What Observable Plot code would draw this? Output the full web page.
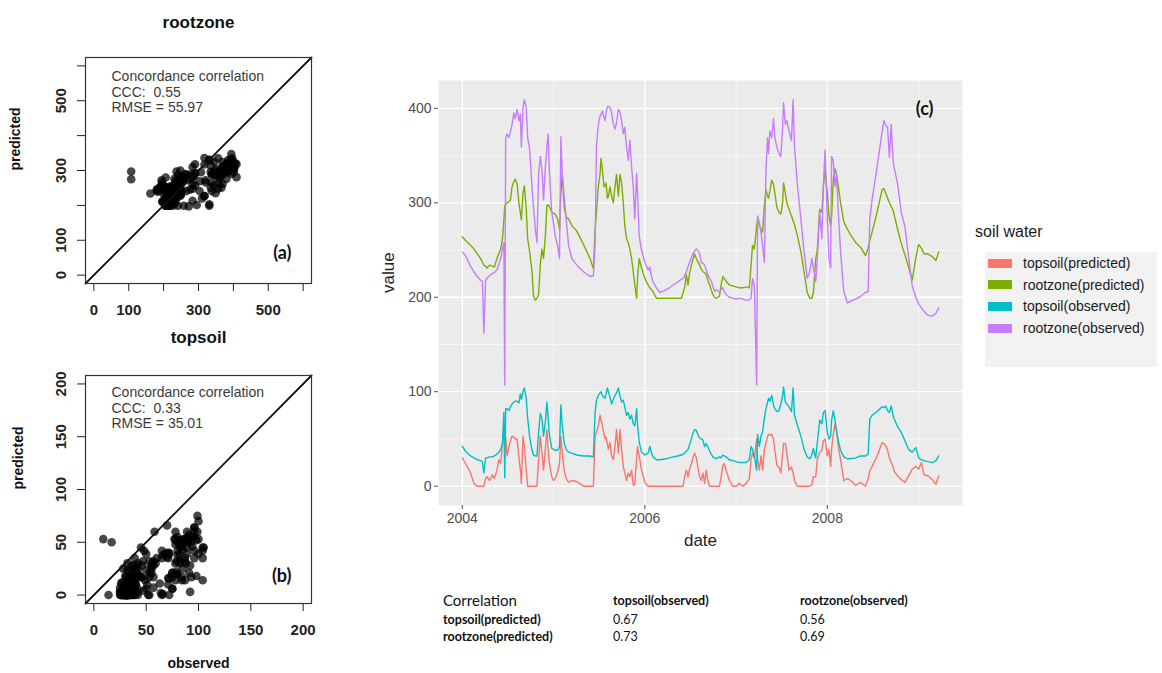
<!DOCTYPE html>
<html><head><meta charset="utf-8">
<script src="https://cdn.jsdelivr.net/npm/d3@7"></script>
<script src="https://cdn.jsdelivr.net/npm/@observablehq/plot@0.6"></script>
<style>
body{margin:0;background:#fff;}
#root{position:relative;width:1162px;height:673px;overflow:hidden;font-family:"Liberation Sans",Arial,sans-serif;background:#fff;}
.t{position:absolute;white-space:nowrap;}
</style></head><body><div id="root"></div>
<script>
// ---------- data (decimal years) ----------
const years = [
2004.000,2004.036,2004.090,2004.127,2004.164,2004.200,2004.220,2004.236,2004.255,2004.270,2004.300,2004.327,2004.350,2004.380,2004.400,2004.420,2004.440,2004.455,2004.465,2004.475,2004.490,2004.510,2004.527,2004.545,2004.564,2004.580,2004.600,2004.620,2004.635,2004.647,2004.665,2004.680,2004.700,2004.716,2004.738,2004.764,2004.780,2004.800,2004.818,2004.836,2004.855,2004.873,2004.890,2004.910,2004.927,2004.940,2004.953,2004.980,
2005.000,2005.018,2005.044,2005.065,2005.080,2005.095,2005.116,2005.138,2005.164,2005.200,2005.255,2005.327,2005.400,2005.436,2005.455,2005.470,2005.490,2005.510,2005.520,2005.535,2005.553,2005.564,2005.575,2005.590,2005.600,2005.618,2005.636,2005.655,2005.673,2005.690,2005.710,2005.727,2005.745,2005.764,2005.780,2005.800,2005.818,2005.836,2005.855,2005.873,2005.890,2005.910,2005.920,2005.938,2005.964,
2006.000,2006.036,2006.055,2006.073,2006.090,2006.127,2006.164,2006.236,2006.270,2006.310,2006.360,2006.400,2006.420,2006.436,2006.455,2006.473,2006.490,2006.510,2006.527,2006.545,2006.564,2006.580,2006.600,2006.618,2006.636,2006.655,2006.673,2006.690,2006.710,2006.727,2006.745,2006.764,2006.780,2006.800,2006.818,2006.836,2006.855,2006.870,2006.890,2006.927,2006.964,
2007.000,2007.036,2007.073,2007.110,2007.145,2007.164,2007.180,2007.200,2007.225,2007.236,2007.255,2007.273,2007.290,2007.310,2007.327,2007.345,2007.356,2007.370,2007.390,2007.410,2007.425,2007.447,2007.470,2007.490,2007.510,2007.520,2007.540,2007.556,2007.580,2007.607,2007.625,2007.640,2007.670,2007.710,2007.745,2007.780,2007.807,2007.830,2007.847,2007.873,2007.890,2007.916,2007.940,2007.956,2007.975,
2008.000,2008.018,2008.036,2008.047,2008.065,2008.084,2008.100,2008.120,2008.145,2008.180,2008.220,2008.255,2008.310,2008.364,2008.418,2008.447,2008.465,2008.490,2008.545,2008.600,2008.620,2008.640,2008.660,2008.680,2008.700,2008.720,2008.730,2008.770,2008.810,2008.850,2008.890,2008.930,2008.970,
2009.000,2009.030,2009.060,2009.100,2009.150,2009.190,2009.220];

const topsoilPredicted = [
30,24,14,3,0,0,0,0,8,10,6,12,8,17,28,24,45,60,53,52,32,42,48,53,52,50,50,30,18,3,53,42,17,0,0,0,0,0,0,28,53,35,17,39,60,40,25,10,
6,8,15,24,53,35,17,8,4,6,5,0,0,0,53,57,64,75,70,64,55,50,52,45,39,46,32,28,42,60,35,60,39,21,14,6,14,10,17,1,2,30,42,32,17,
4,0,0,0,0,0,0,0,0,0,0,0,0,10,17,10,18,24,30,35,30,21,10,6,14,3,17,6,0,0,0,0,0,0,0,10,22,24,17,6,0,
0,3,0,3,8,28,35,30,50,28,17,32,17,39,46,53,55,54,55,50,38,22,20,14,35,45,45,35,17,20,14,6,0,0,0,0,0,2,10,10,28,36,38,48,50,
32,39,21,40,55,66,60,42,28,6,8,6,1,4,0,8,16,21,32,46,45,43,38,30,25,21,16,11,7,4,11,18,21,
18,25,12,11,7,2,11];

const rootzonePredicted = [
264,260,255,251,246,241,237,234,233,231,234,233,232,241,246,251,262,280,297,298,300,301,303,317,322,325,320,300,290,282,310,318,295,262,248,227,201,197,199,203,235,251,241,265,297,298,296,290,
289,288,283,272,310,331,295,285,283,276,270,256,241,230,272,290,317,331,347,335,317,318,321,305,306,317,307,300,317,330,307,330,321,300,276,262,258,251,241,227,213,199,220,241,231,
220,213,210,208,206,199,199,199,199,199,199,199,205,210,224,213,225,234,240,246,241,238,234,230,227,226,224,218,213,208,203,200,199,200,201,213,222,220,217,213,212,
211,210,210,211,210,234,255,251,275,283,276,272,269,297,314,307,305,312,324,320,310,295,290,288,300,321,310,300,293,286,281,277,266,248,227,205,199,199,205,241,250,293,290,317,335,
310,286,276,285,325,336,330,318,300,280,272,266,258,253,244,252,260,269,290,314,315,310,305,300,296,292,288,272,257,245,232,218,242,
256,252,246,246,243,239,248];

const topsoilObserved = [
42,37,32,30,28,27,26,14,30,30,31,31,32,34,36,39,45,78,9,82,82,80,84,87,89,90,90,88,98,92,100,104,93,72,52,38,33,32,32,57,77,71,53,68,89,72,55,40,
39,38,38,42,86,65,46,39,36,35,33,32,32,31,78,91,96,99,100,96,94,93,98,104,100,94,87,92,96,99,104,96,89,91,84,75,78,71,75,66,64,82,65,47,36,
33,35,42,35,31,28,28,29,30,31,32,33,34,35,37,39,44,50,56,60,59,55,51,50,49,42,45,42,37,34,31,30,29,30,31,30,33,32,31,28,27,
26,25,25,25,28,42,39,32,17,55,42,53,57,72,82,89,93,90,96,86,82,79,80,87,96,105,89,87,84,79,104,75,65,53,39,31,29,33,40,30,46,70,66,78,80,
57,50,53,70,80,70,58,48,38,31,29,29,30,32,32,34,71,75,79,84,83,85,80,78,85,75,72,63,57,48,39,36,41,
30,28,27,26,25,27,32];

const rootzoneObserved = [
248,244,233,227,222,218,217,162,218,220,223,225,226,229,235,241,251,258,107,368,373,369,375,383,395,389,399,387,394,359,401,409,401,369,356,317,295,272,258,331,349,335,303,338,359,373,335,290,
278,265,255,241,370,331,307,283,255,241,234,227,222,223,255,360,383,392,394,397,390,387,395,402,402,401,395,383,378,385,399,396,387,373,380,359,345,366,338,317,283,331,310,265,250,
237,229,232,222,216,210,205,208,210,213,216,219,220,223,227,232,237,242,246,249,251,250,246,237,236,234,229,224,220,217,212,206,208,207,205,208,210,206,203,200,199,
198,199,198,197,197,199,220,213,107,286,279,269,255,237,335,369,352,376,369,389,369,359,352,349,380,406,383,387,376,366,409,359,321,283,248,220,227,241,231,217,241,290,262,317,356,
283,241,231,349,345,317,331,290,248,206,194,196,198,201,205,206,283,303,338,375,387,382,380,348,383,345,338,320,290,275,243,212,200,
193,189,185,181,180,183,189];

const seriesNames = ["topsoil(predicted)","rootzone(predicted)","topsoil(observed)","rootzone(observed)"];
const seriesColors = ["#F8766D","#7CAE00","#00BFC4","#C77CFF"];
const legendTitle = "soil water";

const yearTicks = [2004, 2006, 2008];
const yearMinor = [2005, 2007, 2009];
const valueTicks = [0, 100, 200, 300, 400];
const valueMinor = [50, 150, 250, 350];

const rootTicks = [0, 100, 200, 300, 400, 500, 600];
const rootTickLabels = [0, 100, 300, 500];
const topTicks = [0, 50, 100, 150, 200];
const topTickLabels = [0, 50, 100, 150, 200];

const statsRoot = ["Concordance correlation", "CCC:  0.55", "RMSE = 55.97"];
const statsTop = ["Concordance correlation", "CCC:  0.33", "RMSE = 35.01"];

const corrTitle = "Correlation";
const corrCols = ["topsoil(observed)", "rootzone(observed)"];
const corrRows = ["topsoil(predicted)", "rootzone(predicted)"];
const corrValues = [[0.67, 0.56], [0.73, 0.69]];

// ---------- layout ----------
const root = document.getElementById("root");
function place(el, left, top) {
  el.style.position = "absolute"; el.style.left = left + "px"; el.style.top = top + "px";
  root.appendChild(el); return el;
}
const baseStyle = {fontFamily: "'Liberation Sans', Arial, sans-serif", fontSize: "14px", color: "#111", background: "transparent", overflow: "visible"};

function scatterPanel({obs, pred, lim, ticks, tickLabels, title, stats, tag, height, marginTop, marginBottom, titleDy, ylabDx, statsDy, tagDy, observedLabel}) {
  const pts = obs.map((o, i) => ({obs: o, pred: pred[i]}));
  const pad = (lim[1] - lim[0]) * 0.04;
  const dom = [lim[0] - pad, lim[1] + pad];
  const labelSet = new Set(tickLabels);
  const fmt = d => labelSet.has(d) ? String(d) : "";
  return Plot.plot({
    width: 330, height, marginLeft: 85, marginRight: 19, marginTop, marginBottom,
    style: baseStyle,
    x: {domain: dom}, y: {domain: dom},
    marks: [
      Plot.dot(pts, {x: "obs", y: "pred", r: 4.3, fill: "#000", fillOpacity: 0.72}),
      Plot.line(dom.map(v => ({v})), {x: "v", y: "v", stroke: "#111", strokeWidth: 1.8}),
      Plot.frame({stroke: "#333", strokeWidth: 1.2}),
      Plot.axisX({ticks, tickSize: 8, tickPadding: 13, tickFormat: fmt, fontWeight: "bold", fontSize: 15, label: null, color: "#222"}),
      Plot.axisY({ticks, tickSize: 8, tickPadding: 12, tickRotate: -90, tickFormat: fmt, fontWeight: "bold", fontSize: 15, label: null, color: "#222"}),
      Plot.text([title], {frameAnchor: "top", dy: titleDy, fontWeight: "bold", fontSize: 17, fill: "#111"}),
      Plot.text(["predicted"], {frameAnchor: "left", dx: ylabDx, rotate: -90, fontWeight: "bold", fontSize: 14, fill: "#111"}),
      observedLabel ? Plot.text([observedLabel], {frameAnchor: "bottom", dy: 64, fontWeight: "bold", fontSize: 14, fill: "#111"}) : null,
      Plot.text([stats.join("\n")], {frameAnchor: "top-left", dx: 26, dy: statsDy, textAnchor: "start", lineAnchor: "top", fontSize: 14, fill: "#3a3a3a", lineHeight: 1.1}),
      Plot.text([tag], {frameAnchor: "bottom-right", dx: -20, dy: tagDy, fontWeight: "bold", fontSize: 18, fontFamily: "Lato, sans-serif", fill: "#111"})
    ]
  });
}

const chartA = scatterPanel({
  obs: rootzoneObserved, pred: rootzonePredicted, lim: [0, 600], ticks: rootTicks, tickLabels: rootTickLabels,
  title: "rootzone", stats: statsRoot, tag: "(a)", height: 330, marginTop: 57, marginBottom: 47,
  titleDy: -42, ylabDx: -70, statsDy: 13, tagDy: -25, observedLabel: null
});
place(chartA, 0, 0);

const chartB = scatterPanel({
  obs: topsoilObserved, pred: topsoilPredicted, lim: [0, 200], ticks: topTicks, tickLabels: topTickLabels,
  title: "topsoil", stats: statsTop, tag: "(b)", height: 353, marginTop: 55, marginBottom: 70,
  titleDy: -45, ylabDx: -67, statsDy: 11, tagDy: -22, observedLabel: "observed"
});
place(chartB, 0, 320);

// ---------- time series panel (c) ----------
const seriesArrays = [topsoilPredicted, rootzonePredicted, topsoilObserved, rootzoneObserved];
const long = seriesNames.flatMap((name, k) => years.map((t, i) => ({date: t, value: seriesArrays[k][i], series: name})));
const [x0, x1] = d3.extent(years);
const xDom = [x0 - 0.05 * (x1 - x0), x1 + 0.05 * (x1 - x0)];
const [y0, y1] = d3.extent(long, d => d.value);
const yDom = [y0 - 0.05 * (y1 - y0), y1 + 0.05 * (y1 - y0)];

const chartC = Plot.plot({
  width: 610, height: 500, marginLeft: 78, marginRight: 8, marginTop: 20, marginBottom: 55,
  style: baseStyle,
  x: {domain: xDom}, y: {domain: yDom},
  color: {domain: seriesNames, range: seriesColors},
  marks: [
    Plot.frame({fill: "#EBEBEB", stroke: null}),
    Plot.gridX({ticks: yearMinor, stroke: "#fff", strokeOpacity: 1, strokeWidth: 0.6}),
    Plot.gridY({ticks: valueMinor, stroke: "#fff", strokeOpacity: 1, strokeWidth: 0.6}),
    Plot.gridX({ticks: yearTicks, stroke: "#fff", strokeOpacity: 1, strokeWidth: 1.3}),
    Plot.gridY({ticks: valueTicks, stroke: "#fff", strokeOpacity: 1, strokeWidth: 1.3}),
    Plot.line(long, {x: "date", y: "value", z: "series", stroke: "series", strokeWidth: 1.4}),
    Plot.axisX({ticks: yearTicks, tickSize: 4, tickPadding: 4, tickFormat: d3.format("d"), fontSize: 14, color: "#4D4D4D", label: null}),
    Plot.axisY({ticks: valueTicks, tickSize: 4, tickPadding: 3, fontSize: 14, color: "#4D4D4D", label: null}),
    Plot.text(["value"], {frameAnchor: "left", dx: -50, rotate: -90, fontSize: 17, fill: "#222"}),
    Plot.text(["date"], {frameAnchor: "bottom", dy: 40, fontSize: 17, fill: "#222"}),
    Plot.text(["(c)"], {frameAnchor: "top-right", dx: -29, dy: 22, fontWeight: "bold", fontSize: 18, fontFamily: "Lato, sans-serif", fill: "#111"})
  ]
});
place(chartC, 360, 60);

// ---------- legend ----------
const lg = place(document.createElement("div"), 985, 252);
lg.style.width = "172px"; lg.style.height = "115px"; lg.style.background = "#F2F2F2";
const lt = place(document.createElement("div"), 975, 222);
lt.className = "t"; lt.textContent = legendTitle; lt.style.fontSize = "16px"; lt.style.color = "#1a1a1a"; lt.style.lineHeight = "20px";
seriesNames.forEach((name, i) => {
  const cy = 263 + i * 21.7;
  const key = place(document.createElement("div"), 988, cy - 4.5);
  key.style.width = "24px"; key.style.height = "9px"; key.style.background = seriesColors[i];
  const lab = place(document.createElement("div"), 1023, cy - 9);
  lab.className = "t"; lab.textContent = name; lab.style.fontSize = "14px"; lab.style.lineHeight = "18px"; lab.style.color = "#1a1a1a";
});

// ---------- correlation table ----------
function tcell(text, left, cy, size, bold) {
  const el = place(document.createElement("div"), left, cy - size * 0.65);
  el.className = "t"; el.textContent = text;
  el.style.fontFamily = "Lato, sans-serif"; el.style.fontSize = size + "px";
  el.style.lineHeight = (size * 1.3) + "px"; el.style.fontWeight = bold ? "bold" : "normal"; el.style.color = "#111";
}
const colX = [443, 613, 800];
const rowY = [601, 620, 637];
tcell(corrTitle, colX[0], rowY[0], 15, false);
corrCols.forEach((c, j) => tcell(c, colX[j + 1], rowY[0], 12.5, true));
corrRows.forEach((r, i) => {
  tcell(r, colX[0], rowY[i + 1], 12.5, true);
  corrValues[i].forEach((v, j) => tcell(v.toFixed(2), colX[j + 1], rowY[i + 1], 12.5, false));
});
</script></body></html>
